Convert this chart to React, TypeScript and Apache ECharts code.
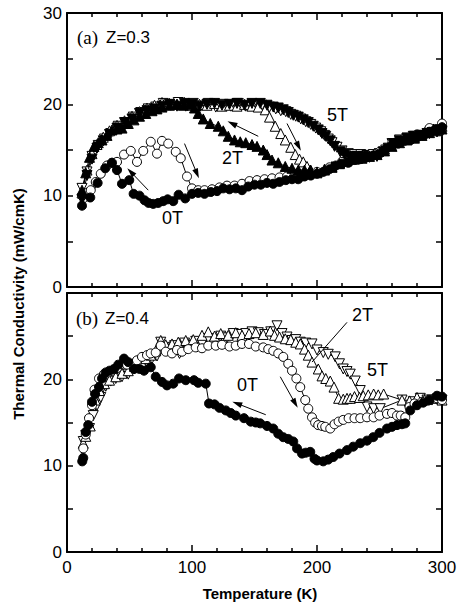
import React, { useEffect, useRef } from 'react';
import * as echarts from 'echarts';

// Tick values
const xTicks = [0, 100, 200, 300];
const yTicks = [0, 10, 20, 30];

// Panel (a) Z=0.3
const a0T_filled = [[12,8.9],[18.6,9.8],[24.5,11.4],[30.6,13.0],[36,13.6],[40,12.8],[44,11.3],[49.8,11.7],[53.3,10.2],[58,10.0],[62,9.5],[65.3,9.2],[69,9.1],[73,9.2],[77,9.4],[80.5,9.6],[85,9.4],[89.3,10.1],[94.6,9.7],[100,10.2],[105,10.3],[110,10.2],[115,10.4],[120,10.5],[125,10.8],[130,10.7],[135,10.8],[140,10.6],[145,11.0],[150,11.2],[155,11.2],[160,11.4],[165,11.3],[170,11.5],[175,11.7],[180,11.8],[185,11.8],[190,12.1],[195,12.2],[200,12.4],[205,12.6],[210,12.9],[215,13.3],[220,13.5],[225,13.6],[230,13.9],[235,14.0],[240,14.2],[245,14.4],[250,14.6],[255,15.1],[260,15.5],[265,15.7],[270,16.0],[275,16.1],[280,16.4],[285,16.6],[290,17.0],[295,17.3],[300,17.5]];
const a0T_open = [[12,10.0],[16,10.3],[19,10.6],[23,11.5],[27,12.4],[32,13.3],[36,13.6],[40,13.7],[45.6,14.5],[51,14.9],[56,13.7],[61,14.9],[67,15.9],[72,14.6],[76,16.0],[81,15.7],[87,14.8],[91,14.1],[96,12.1],[100,10.8],[105,10.6],[110,10.6],[116,10.7],[122,10.9],[128,11.1],[134,11.1],[140,11.3],[146,11.6],[152,11.7],[158,11.8],[164,11.9],[170,12.0],[176,12.1],[182,12.2],[188,12.3],[194,12.4],[200,12.6],[210,13.1],[220,13.7],[230,14.1],[240,14.4],[250,14.8],[260,15.7],[270,16.3],[280,16.7],[290,17.4],[300,17.9]];
const a2T_filled = [[12,10.6],[15,12.5],[18,14.2],[21.6,15.4],[25,15.8],[28,16.1],[32,16.6],[36,17.2],[40,17.3],[44,17.4],[49,17.9],[53.6,18.3],[58,18.7],[63,19.0],[68,19.3],[72,19.5],[76,19.7],[82,19.9],[88,20.0],[93,19.9],[98,20.0],[102,19.6],[105,19.0],[109,18.4],[114.6,17.9],[121,17.6],[125,17.1],[129,16.5],[134,16.1],[138.6,15.9],[143,15.8],[148,15.6],[152,15.4],[157,15.0],[160,14.5],[164,13.9],[169,13.6],[174.6,13.2],[180,13.0],[185,12.8],[190,12.8],[194.6,12.8],[200,12.5],[206,12.8],[212,13.1],[218,13.5],[224,13.8],[230,14.0],[236,14.1],[242,14.3],[248,14.5],[254,14.9],[260,15.4],[266,15.8],[272,16.1],[278,16.3],[284,16.6],[290,16.9],[295,17.1],[300,17.3]];
const a2T_open = [[12,10.3],[16,12.8],[20,14.6],[24,15.6],[29,16.4],[34,17.1],[40,17.7],[46,18.2],[52,18.7],[58,19.2],[64,19.6],[70,19.9],[76,20.2],[82,20.1],[88,20.0],[94,20.2],[100,19.9],[106,20.0],[112,19.9],[118,20.1],[124,19.8],[130,19.9],[136,19.8],[142,20.0],[148,19.8],[153,19.7],[158.6,19.4],[162,18.6],[166.6,17.6],[171,16.8],[174.6,16.1],[179,15.3],[182.6,14.5],[186,14.0],[189,13.7],[192,13.2],[195,12.8],[200,12.6],[206,12.9],[212,13.2],[218,13.6],[224,13.9],[230,14.1],[238,14.3],[246,14.6],[254,15.1],[262,15.8],[270,16.2],[278,16.5],[286,16.9],[293,17.3],[300,17.6]];
const a5T_filled = [[12,9.6],[16,12.2],[20,14.0],[24,15.2],[29,16.0],[34,16.7],[40,17.4],[46,18.0],[52,18.4],[58,19.0],[64,19.3],[70,19.5],[76,19.8],[82,20.0],[88,19.8],[94,20.1],[100,20.0],[106,19.8],[112,20.0],[118,20.1],[124,19.9],[130,20.0],[136,20.1],[142,19.9],[148,20.1],[154.6,20.1],[160,19.9],[165,19.7],[169,19.6],[173,19.4],[177,19.1],[181,18.8],[185,18.6],[189,18.3],[193,18.0],[197,17.6],[201,17.2],[204,16.8],[207,16.5],[210.6,16.0],[214,15.4],[218.6,14.8],[222,14.5],[226.6,14.3],[232,14.3],[237,14.3],[242,14.2],[248,14.3],[253,14.8],[257,15.2],[261,15.7],[266,16.0],[272,16.3],[277,16.5],[282.6,16.6],[288,16.8],[292,16.9],[296,17.0],[300,17.1]];
const a5T_open = [[12,10.8],[16,12.6],[20,14.3],[25,15.5],[30,16.2],[35,16.8],[41,17.6],[47,18.0],[53,18.6],[59,19.1],[65,19.5],[71,19.7],[77,20.1],[83,19.9],[89,20.2],[95,19.8],[101,20.1],[107,19.8],[113,20.1],[119,19.7],[125,20.0],[131,19.8],[137,20.1],[143,19.8],[149,20.0],[156,19.9],[162,19.7],[167,19.5],[171,19.3],[175,19.2],[179,18.9],[183,18.7],[187,18.4],[191,18.1],[195,17.8],[199,17.4],[203,17.0],[206,16.6],[209,16.2],[212,15.8],[216,15.3],[220,14.9],[225,14.6],[230,14.5],[235,14.5],[240,14.4],[245,14.5],[250,14.6],[255,15.0],[260,15.7],[266,16.1],[272,16.3],[278,16.5],[284,16.6],[290,16.8],[296,17.0],[300,17.0]];

// Panel (b) Z=0.4
const b0T_filled = [[12.2,10.5],[13,10.9],[15,13.9],[17,14.7],[20,17.4],[22.5,18.3],[25.6,19.1],[28,20.1],[31,20.8],[34,21.0],[37.6,21.2],[41,21.7],[45.6,22.4],[49,22.0],[53.6,21.2],[58,21.2],[61.6,21.0],[67,21.4],[71,20.3],[76,19.7],[80,19.3],[85,19.5],[89.6,20.1],[95,19.9],[101.6,19.9],[105,19.6],[111,19.5],[113.6,17.2],[118,17.1],[122,16.7],[127,16.4],[131,16.1],[135,15.8],[141.6,15.5],[147,15.1],[151,15.0],[154.6,14.9],[160,14.6],[165,14.3],[169,13.7],[173,13.3],[177,13.1],[181,12.8],[184,12.0],[188,11.4],[191,11.5],[194.6,11.6],[198,10.8],[200,10.6],[205,10.5],[209,10.7],[213,11.0],[218,11.4],[224,11.8],[229,12.2],[234.6,12.6],[240,12.9],[245,13.3],[250,13.8],[256,14.3],[260,14.5],[264,14.7],[268,14.8],[270.6,14.9],[274.6,16.4],[280,17.0],[285,17.3],[290,17.6],[296,18.1],[300,18.0]];
const b0T_open = [[13,12.0],[15,13.6],[17.6,15.5],[20,17.0],[22,18.8],[25.6,20.1],[29.6,20.6],[33,20.8],[36,21.0],[40,21.3],[44,21.8],[48,21.7],[52,21.8],[56,22.2],[60,22.6],[64,22.8],[67,23.0],[71,23.1],[75,23.9],[79,23.2],[84,23.0],[88,23.4],[92,23.2],[97,23.5],[103,23.7],[108,23.6],[113,23.9],[119,23.9],[124,24.0],[130,23.8],[135,23.9],[140,24.1],[145.6,24.1],[151,23.8],[157,23.7],[161,23.5],[165,23.3],[169,23.0],[173,22.6],[177,21.8],[180,21.0],[183.5,20.1],[186.6,19.1],[190.6,17.6],[193,16.6],[196,15.6],[198.5,15.0],[201,14.7],[204,14.6],[206.6,14.5],[210.6,14.3],[214,14.8],[217.3,15.1],[221,15.3],[225.3,15.5],[230,15.5],[234.6,15.5],[240,15.6],[245.3,15.6],[250,15.8],[256,16.0],[260,16.1],[264,15.8],[267,15.8],[270.6,15.6],[274,16.8],[278,17.2],[284,17.4],[290,17.6],[296,17.8],[300,17.6]];
const b2T_open = [[13,12.6],[15,13.4],[18.6,14.6],[22.6,17.6],[26,18.7],[30,19.5],[34,19.9],[39,20.3],[44,20.7],[49,21.0],[54,21.5],[59.5,22.0],[63,22.4],[67,22.8],[71,23.3],[75,24.5],[79,24.0],[84,24.1],[89,24.3],[95,24.5],[101,24.6],[108,25.1],[113,25.5],[118,25.0],[123,25.3],[129,25.1],[135,25.4],[140,25.1],[145.6,25.3],[151,25.4],[157,25.2],[162.6,25.6],[166,25.1],[170,24.9],[174.6,24.7],[179,24.6],[183,24.3],[186.6,24.1],[190,23.5],[193,22.8],[196,22.0],[201,21.2],[204,20.4],[207,20.1],[210.6,19.8],[213.6,19.1],[217.3,17.8],[221,17.7],[224,17.8],[226.6,17.8],[230,18.0],[234,17.9],[237,18.1],[241,18.2],[245.3,18.3],[249,18.2],[253.3,18.3],[268,17.6],[274,17.5],[280,17.9],[286,17.6],[293,17.8],[300,17.6]];
const b5T_open = [[13,12.8],[15,13.5],[18,14.3],[21,15.8],[24,17.0],[27,17.9],[31,19.2],[35,19.8],[39,20.1],[44,20.3],[49,20.6],[54,21.2],[59,21.4],[64,22.0],[68,22.4],[72,22.7],[75,24.3],[78,23.7],[82,23.3],[86,23.9],[90,23.0],[94,24.2],[98,23.9],[103,24.4],[108,24.1],[113,24.7],[118,24.6],[123,25.0],[128,24.8],[133,25.3],[138,25.2],[143,25.3],[148,25.5],[153,25.4],[158,25.2],[163,25.5],[168,26.2],[172,25.3],[176,24.9],[180,24.5],[183,24.6],[186.6,24.3],[191,24.2],[196,24.1],[200,23.4],[205,23.1],[209,22.9],[214.6,22.6],[218,21.8],[221,21.2],[224,20.9],[226.6,20.6],[230.6,19.8],[234.6,18.7],[240,16.8],[245.3,16.6],[250.6,16.6],[268,17.6],[272,17.0],[277,17.4],[282.6,17.8],[288,17.6],[292,17.6],[296,17.7],[300,17.6]];

// Arrows (data coordinates: [from, to])
const aArrows = [[[65, 10.6], [51, 12.6]], [[94, 15.7], [104, 12.4]], [[153, 16.5], [132, 17.9]], [[176, 17.9], [185.3, 15.4]]];
const bArrows = [[[159, 15.9], [136, 17.2]], [[170.6, 20.3], [182.6, 17.2]]];
const bLeaders = [[[224, 26.6], [196, 22.0]]];

const FONT = '"Liberation Sans", Arial, Helvetica, sans-serif';
const SERIF = '"Liberation Serif", "Times New Roman", serif';

function xAx(gridIndex: number, position: string, labels: boolean) {
  return {
    type: 'value', gridIndex, position, min: xTicks[0], max: xTicks[xTicks.length - 1], interval: 100,
    axisLine: { show: true, onZero: false, lineStyle: { color: '#000', width: 2 } },
    axisTick: { show: true, inside: true, length: 7, lineStyle: { color: '#000', width: 1.5 } },
    minorTick: { show: true, splitNumber: 5, length: 4, lineStyle: { color: '#000', width: 1.5 } },
    splitLine: { show: false }, minorSplitLine: { show: false },
    axisLabel: { show: labels, color: '#000', fontSize: 17, fontFamily: FONT, margin: 7 },
  };
}
function yAx(gridIndex: number, position: string, labels: boolean, showMax = true) {
  return {
    type: 'value', gridIndex, position, min: yTicks[0], max: yTicks[yTicks.length - 1], interval: 10,
    axisLine: { show: true, onZero: false, lineStyle: { color: '#000', width: 2 } },
    axisTick: { show: true, inside: true, length: 6, lineStyle: { color: '#000', width: 1.5 } },
    minorTick: { show: true, splitNumber: 2, length: 6, lineStyle: { color: '#000', width: 1.5 } },
    splitLine: { show: false }, minorSplitLine: { show: false },
    axisLabel: { show: labels, color: '#000', fontSize: 17, fontFamily: FONT, margin: 5, showMaxLabel: showMax },
  };
}

function ser(data: number[][], axis: number, symbol: string, filled: boolean, rotate = 0, extra: any = {}) {
  return {
    type: 'line', data, xAxisIndex: axis, yAxisIndex: axis, symbol, symbolSize: symbol === 'circle' ? 9 : 10,
    symbolRotate: rotate, showAllSymbol: true, silent: true,
    itemStyle: { color: filled ? '#000' : '#fff', borderColor: '#000', borderWidth: 1 },
    lineStyle: { color: '#000', width: 1 },
    ...extra,
  };
}

function arrowMark(arrows: number[][][], leaders: number[][][] = []) {
  return {
    silent: true, symbol: ['none', 'triangle'], symbolSize: [6, 10],
    lineStyle: { color: '#000', width: 1, type: 'solid' },
    label: { show: false }, emphasis: { disabled: true },
    data: [
      ...arrows.map(([f, t]) => [{ coord: f }, { coord: t }]),
      ...leaders.map(([f, t]) => [{ coord: f, symbol: 'none' }, { coord: t, symbol: 'none' }]),
    ],
  };
}

function txt(text: string, x: number, y: number, size = 17, family = FONT, align = 'left') {
  return { type: 'text', x, y, silent: true, style: { text, fill: '#000', font: `${size}px ${family}`, textAlign: align, textVerticalAlign: 'middle' } };
}

export default function App() {
  const ref = useRef<HTMLDivElement>(null);
  useEffect(() => {
    const chart = echarts.init(ref.current!, null, { renderer: 'svg' });
    chart.setOption({
      animation: false,
      backgroundColor: '#fff',
      grid: [
        { left: 67, top: 13, width: 375, height: 274 },
        { left: 67, top: 293, width: 375, height: 259 },
      ],
      xAxis: [xAx(0, 'bottom', false), xAx(0, 'top', false), xAx(1, 'bottom', true), xAx(1, 'top', false)],
      yAxis: [yAx(0, 'left', true), yAx(0, 'right', false), yAx(1, 'left', true, false), yAx(1, 'right', false)],
      series: [
        ser(a5T_open, 0, 'triangle', false, 180),
        ser(a2T_open, 0, 'triangle', false),
        ser(a0T_open, 0, 'circle', false),
        ser(a5T_filled, 0, 'triangle', true, 180),
        ser(a2T_filled, 0, 'triangle', true),
        ser(a0T_filled, 0, 'circle', true, 0, { markLine: arrowMark(aArrows) }),
        ser(b5T_open, 2, 'triangle', false, 180),
        ser(b2T_open, 2, 'triangle', false),
        ser(b0T_open, 2, 'circle', false),
        ser(b0T_filled, 2, 'circle', true, 0, { markLine: arrowMark(bArrows, bLeaders) }),
      ],
      graphic: [
        txt('(a)', 77, 37, 19, SERIF),
        txt('Z=0.3', 106, 37, 17),
        txt('(b)', 76, 318, 19, SERIF),
        txt('Z=0.4', 105, 318, 17),
        txt('5T', 327, 115, 18),
        txt('2T', 222, 158, 18),
        txt('0T', 162, 218, 18),
        txt('2T', 352, 315, 18),
        txt('5T', 367, 370, 18),
        txt('0T', 237, 385, 18),
        { type: 'text', x: 18, y: 304, rotation: Math.PI / 2, silent: true,
          style: { text: 'Thermal Conductivity (mW/cmK)', fill: '#000', font: `bold 15px ${FONT}`, textAlign: 'center', textVerticalAlign: 'middle' } },
        { type: 'text', x: 260, y: 593, silent: true,
          style: { text: 'Temperature (K)', fill: '#000', font: `bold 15px ${FONT}`, textAlign: 'center', textVerticalAlign: 'middle' } },
      ],
    });
    return () => chart.dispose();
  }, []);
  return <div ref={ref} style={{ position: 'absolute', left: 0, top: 0, width: 466, height: 605, background: '#fff' }} />;
}
